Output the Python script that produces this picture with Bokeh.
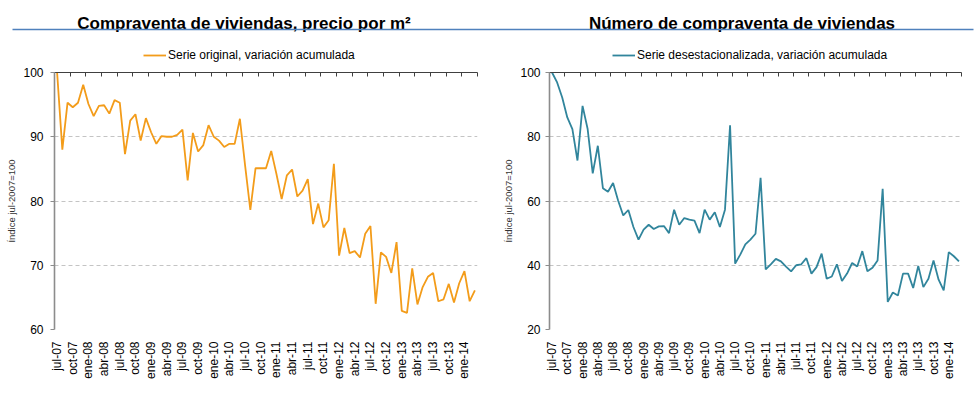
import math
from bokeh.plotting import figure
from bokeh.layouts import column, row
from bokeh.models import (Range1d, LinearAxis, FixedTicker, Legend, LegendItem,
                          CustomJSTickFormatter)
from bokeh.embed import file_html
from bokeh.resources import INLINE
from bokeh.core.properties import value

FONT = "Liberation Sans"

# ---- data -------------------------------------------------------------
tick_labels = ["jul-07", "oct-07", "ene-08", "abr-08", "jul-08", "oct-08", "ene-09",
               "abr-09", "jul-09", "oct-09", "ene-10", "abr-10", "jul-10", "oct-10",
               "ene-11", "abr-11", "jul-11", "oct-11", "ene-12", "abr-12", "jul-12",
               "oct-12", "ene-13", "abr-13", "jul-13", "oct-13", "ene-14"]

# monthly, jul-07 .. mar-14
precio_m2 = [100, 88.0, 95.3, 94.6, 95.3, 98.1, 95.1, 93.2, 94.8, 94.9,
             93.6, 95.7, 95.3, 87.3, 92.5, 93.5, 89.4, 92.9, 90.7, 88.9,
             90.1, 90.0, 90.0, 90.3, 91.1, 83.2, 90.6, 87.7, 88.7, 91.8,
             90.0, 89.4, 88.4, 88.9, 88.9, 92.8, 85.5, 78.6, 85.1, 85.1,
             85.1, 87.8, 84.2, 80.3, 84.0, 84.9, 80.7, 81.6, 83.4, 76.4,
             79.6, 75.9, 77.0, 85.8, 71.5, 75.8, 71.9, 72.2, 71.2, 74.9,
             76.1, 64.0, 72.0, 71.3, 68.8, 73.6, 62.9, 62.6, 69.5, 63.9,
             66.6, 68.2, 68.8, 64.4, 64.7, 67.1, 64.2, 67.2, 69.1, 64.4, 66.1]

num_compraventas = [100, 96.9, 92.2, 86.0, 82.4, 72.6, 89.6, 82.4, 68.6, 77.2,
                    64.0, 62.9, 65.6, 60.1, 55.5, 57.2, 51.9, 48.0, 51.1, 52.6,
                    51.3, 52.1, 52.2, 50.0, 57.3, 52.6, 54.7, 54.2, 53.9, 50.0,
                    57.3, 54.2, 56.5, 51.9, 57.3, 83.6, 40.5, 43.3, 46.5, 48.0,
                    49.8, 67.2, 38.7, 40.3, 42.0, 41.2, 39.6, 38.1, 40.0, 40.3,
                    42.2, 37.4, 39.4, 43.6, 35.8, 36.5, 40.3, 35.1, 37.4, 40.7,
                    39.6, 44.4, 38.1, 39.2, 41.5, 63.8, 28.6, 31.5, 30.6, 37.4,
                    37.4, 32.9, 39.8, 33.2, 35.8, 41.5, 35.5, 32.2, 44.1, 42.8, 41.2]

titles = ["Compraventa de viviendas, precio por m\u00b2",
          "N\u00famero de compraventa de viviendas"]
series_names = ["Serie original, variaci\u00f3n acumulada",
                "Serie desestacionalizada, variaci\u00f3n acumulada"]
series_colors = ["#F39C1A", "#31859C"]
y_title = "\u00cdndice jul-2007=100"
y_ticks_left = [60, 70, 80, 90, 100]
y_ticks_right = [20, 40, 60, 80, 100]

months = list(range(len(precio_m2)))
tick_pos = [3 * k for k in range(len(tick_labels))]
# category boundaries (Excel "between tick marks")
x_lo, x_hi = -0.5, len(months) - 0.5
top_ticks = [t - 0.5 for t in tick_pos] + [x_hi]


def make_chart(vals, color, yticks, b_left, b_right, lab_standoff):
    p = figure(width=490, height=334, output_backend="svg", toolbar_location=None,
               x_range=Range1d(x_lo, x_hi), y_range=Range1d(yticks[0], yticks[-1]),
               min_border_left=b_left, min_border_right=b_right,
               min_border_top=8, min_border_bottom=69,
               outline_line_color=None, background_fill_color="white",
               border_fill_color="white")
    p.line(months, vals, line_color=color, line_width=1.8)

    # bottom axis: labels only
    xa = p.xaxis[0]
    xa.ticker = FixedTicker(ticks=tick_pos)
    xa.major_label_overrides = {t: l for t, l in zip(tick_pos, tick_labels)}
    xa.major_label_orientation = math.pi / 2
    xa.axis_line_color = None
    xa.major_tick_line_color = None
    xa.minor_tick_line_color = None
    xa.major_label_standoff = 6
    xa.major_label_text_font = FONT
    xa.major_label_text_font_size = "12px"
    xa.major_label_text_color = "black"

    # top axis: line with inner ticks, no labels
    top = LinearAxis(ticker=FixedTicker(ticks=top_ticks),
                     formatter=CustomJSTickFormatter(code="return ''"))
    top.axis_line_color = "#404040"
    top.axis_line_width = 1.2
    top.major_tick_line_color = "#404040"
    top.major_tick_in = 4
    top.major_tick_out = 0
    top.minor_tick_line_color = None
    top.major_label_standoff = 0
    top.major_label_text_font_size = "0px"
    p.add_layout(top, "above")

    ya = p.yaxis[0]
    ya.ticker = FixedTicker(ticks=yticks)
    ya.axis_line_color = "#8C8C8C"
    ya.axis_line_width = 1.6
    ya.major_tick_line_color = "#8C8C8C"
    ya.major_tick_out = 4
    ya.major_tick_in = 0
    ya.minor_tick_line_color = None
    ya.major_label_standoff = lab_standoff
    ya.major_label_text_font = FONT
    ya.major_label_text_font_size = "12px"
    ya.major_label_text_color = "black"
    ya.axis_label = y_title
    ya.axis_label_text_font = FONT
    ya.axis_label_text_font_size = "9.5px"
    ya.axis_label_text_font_style = "normal"
    ya.axis_label_text_color = "#333333"
    ya.axis_label_standoff = 3

    p.xgrid.visible = False
    p.ygrid.ticker = FixedTicker(ticks=yticks)
    p.ygrid.grid_line_color = "#C4C4C4"
    p.ygrid.grid_line_dash = "4 3"
    p.ygrid.grid_line_width = 1
    return p


p1 = make_chart(precio_m2, series_colors[0], y_ticks_left, 54, 13, 7)
p2 = make_chart(num_compraventas, series_colors[1], y_ticks_right, 59, 19, 5)

# header with titles, blue rule and legends
h = figure(width=980, height=64, x_range=Range1d(0, 980), y_range=Range1d(64, 0),
           toolbar_location=None, output_backend="svg", min_border=0,
           outline_line_color=None, x_axis_location=None, y_axis_location=None)
h.grid.visible = False
h.text(x=[243.5, 741.5], y=[23, 23], text=titles, text_font=value(FONT),
       text_font_style="bold", text_font_size="17px", text_align="center",
       text_baseline="alphabetic", text_color="black")
h.segment(x0=[12], y0=[29], x1=[973], y1=[29], line_color="#4F81BD", line_width=1.5)

for name, col, lx in zip(series_names, series_colors, [143, 612]):
    # legend proxy line, kept outside the visible header area
    r = h.line(x=[-30, -20], y=[-30, -30], line_color=col, line_width=1.8)
    leg = Legend(items=[LegendItem(label=name, renderers=[r])],
                 location=(lx, 2), orientation="horizontal",
                 border_line_color=None, background_fill_alpha=0,
                 padding=0, margin=0, glyph_width=23, glyph_height=14,
                 label_height=14, label_standoff=2,
                 label_text_font=FONT, label_text_font_size="12px",
                 label_text_color="black")
    h.add_layout(leg)

layout = column(h, row(p1, p2))
open("out.html", "w").write(file_html(layout, INLINE))
